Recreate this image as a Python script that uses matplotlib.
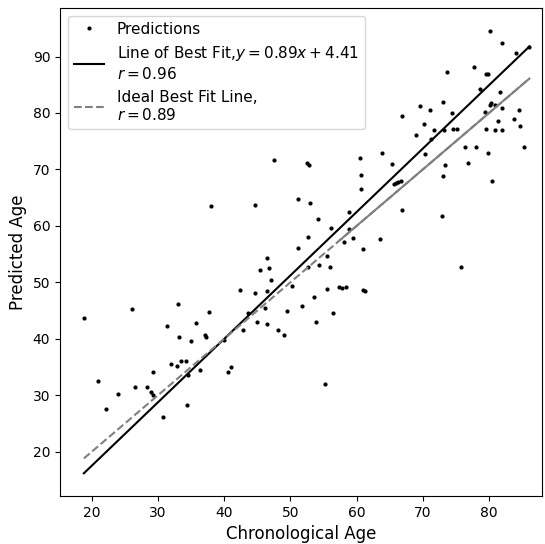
import matplotlib
matplotlib.use("Agg")
import matplotlib.pyplot as plt
import numpy as np

# chronological vs predicted age per subject
chrono_age = [
    18.8, 21.0, 22.1, 24.0, 26.0, 26.5, 28.3, 29.0, 29.2, 29.3,
    30.8, 31.3, 32.0, 32.8, 33.0, 33.2, 33.5, 34.2, 34.4, 34.6,
    35.0, 35.8, 36.3, 37.1, 37.2, 37.7, 38.0, 40.0, 40.6, 41.0,
    42.4, 42.8, 43.6, 44.7, 44.7, 45.0, 45.4, 46.2, 46.4, 46.4,
    46.4, 46.8, 47.1, 47.5, 48.2, 49.0, 49.5, 50.3, 51.1, 51.1,
    51.7, 52.5, 52.6, 52.6, 52.8, 52.9, 53.5, 53.8, 54.2, 54.3,
    55.2, 55.5, 55.6, 56.0, 56.2, 56.4, 57.3, 57.8, 58.1, 58.4,
    58.8, 58.8, 59.5, 60.5, 60.6, 60.7, 61.0, 61.0, 61.3, 63.6,
    63.8, 65.3, 65.6, 66.0, 66.3, 66.7, 66.8, 66.9, 69.0, 69.5,
    70.2, 70.4, 71.1, 71.3, 71.7, 72.9, 73.0, 73.1, 73.2, 73.3,
    73.7, 74.4, 74.5, 75.2, 75.7, 76.3, 76.8, 77.7, 78.0, 78.7,
    79.4, 79.5, 79.5, 79.8, 79.9, 80.1, 80.1, 80.3, 80.5, 80.9,
    80.9, 81.3, 81.7, 81.9, 81.9, 82.0, 83.8, 84.1, 84.5, 84.7,
    85.3, 86.1,
]
pred_age = [
    43.7, 32.6, 27.5, 30.2, 45.3, 31.5, 31.5, 30.5, 30.1, 34.1,
    26.2, 42.3, 35.5, 35.2, 46.1, 40.3, 36.1, 36.1, 28.3, 33.5,
    39.6, 42.8, 34.4, 40.6, 40.3, 44.7, 63.6, 39.8, 34.2, 35.0,
    48.6, 41.6, 44.6, 48.1, 63.7, 43.0, 52.1, 45.4, 54.4, 48.4,
    42.7, 52.6, 50.4, 71.7, 41.6, 40.6, 45.0, 49.3, 56.1, 64.7,
    45.8, 71.1, 52.8, 58.0, 70.7, 64.0, 47.4, 43.0, 61.3, 53.1,
    32.0, 48.8, 54.7, 52.7, 59.6, 44.6, 49.2, 49.0, 57.1, 49.2,
    62.4, 59.4, 57.8, 72.1, 69.1, 66.6, 55.9, 48.6, 48.4, 57.7,
    72.9, 70.9, 67.5, 67.6, 67.8, 68.0, 79.5, 62.8, 76.1, 81.2,
    78.0, 72.7, 80.6, 75.4, 76.9, 61.7, 68.9, 81.9, 76.9, 70.7,
    87.2, 80.0, 77.2, 77.2, 52.7, 74.0, 71.1, 88.2, 74.0, 84.2,
    80.2, 86.9, 77.2, 86.9, 73.0, 94.6, 81.5, 81.8, 68.0, 81.5,
    77.0, 78.5, 83.7, 80.9, 77.0, 92.4, 79.0, 90.7, 80.6, 77.7,
    74.0, 91.7,
]

slope, intercept = 0.89, 4.41
r_fit, r_ideal = 0.96, 0.89

x = np.array(chrono_age)
y = np.array(pred_age)
x_ends = np.array([x.min(), x.max()])

fig = plt.figure(figsize=(5.45, 5.44), dpi=100)
ax = fig.add_axes([60 / 545, 48 / 544, 482 / 545, 488 / 544])

ax.plot(x, y, "k.", markersize=4, label="Predictions")
ax.plot(x_ends, (x_ends - intercept) / slope, color="black", lw=1.5,
        label=f"Line of Best Fit,$y = {slope}x + {intercept}$\n$r = {r_fit}$")
ax.plot(x_ends, x_ends, "--", color="gray", lw=1.5,
        label=f"Ideal Best Fit Line,\n$r = {r_ideal}$")
# the dense upper part of the ideal line renders solid
upper = np.array([57.5, x.max()])
ax.plot(upper, upper, "-", color="gray", lw=1.5)

ax.set_xlim(15.2, 88.0)
ax.set_ylim(12.15, 98.6)
ax.set_xlabel("Chronological Age", fontsize=12)
ax.set_ylabel("Predicted Age", fontsize=12)
ax.tick_params(labelsize=10)
ax.legend(loc="upper left", fontsize=11)

fig.savefig("out.png", dpi=100)
